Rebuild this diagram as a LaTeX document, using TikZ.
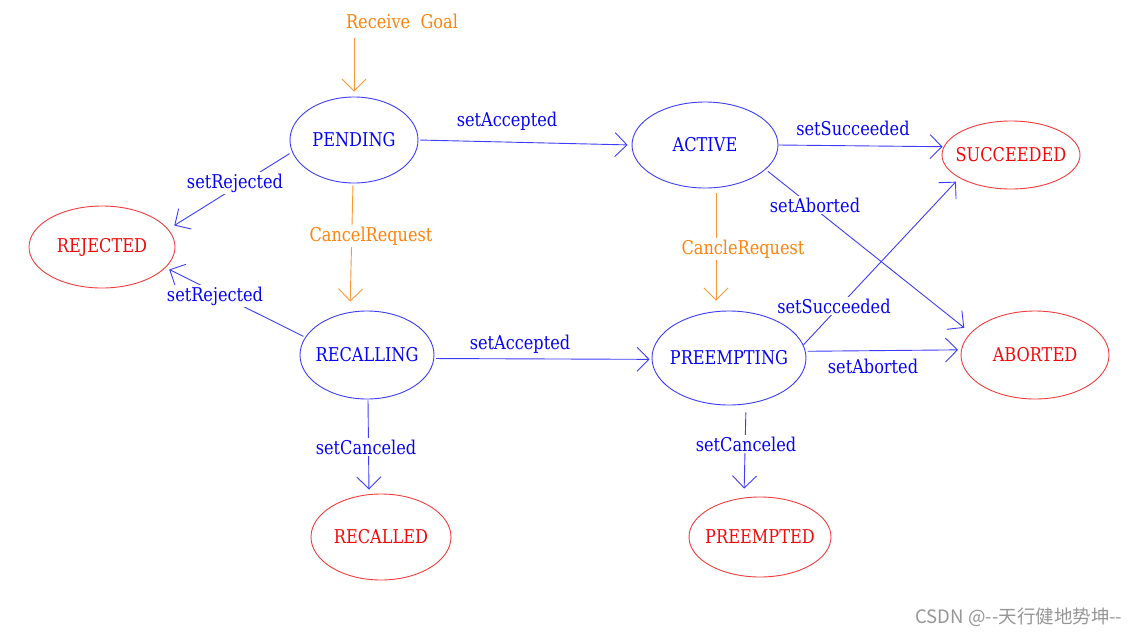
\documentclass[tikz,border=0pt]{standalone}
\usepackage{fontspec}
\setmainfont{DejaVu Serif}[FakeStretch=0.85]
\newfontfamily\cjkfont{Noto Sans CJK SC}
\usetikzlibrary{shapes.geometric,arrows.meta}
\definecolor{tblue}{RGB}{5,5,240}
\definecolor{lblue}{RGB}{60,60,250}
\definecolor{tred}{RGB}{240,10,10}
\definecolor{lred}{RGB}{240,60,60}
\definecolor{torange}{RGB}{255,130,10}
\definecolor{lorange}{RGB}{255,150,50}
\definecolor{wmgray}{RGB}{150,150,150}
\begin{document}
\begin{tikzpicture}[x=1pt,y=-1pt,
  txt/.style={font=\fontsize{19}{22}\selectfont},
  stbox/.style={ellipse, draw=lblue, line width=0.9pt, text=tblue, inner sep=0pt, txt},
  finbox/.style={ellipse, draw=lred, line width=0.9pt, text=tred, inner sep=0pt, txt},
  trans/.style={draw=lblue, line width=0.9pt, -{Straight Barb[length=12pt,width=24pt]}},
  cancel/.style={trans, draw=lorange},
  lbl/.style={txt, text=tblue, fill=white, inner sep=2pt},
  olbl/.style={lbl, text=torange},
]
\useasboundingbox (0,0) rectangle (1141,635);
\fill[white] (0,0) rectangle (1141,635);

% states
\node[stbox, minimum width=128pt, minimum height=86pt] (pending) at (354,140) {\makebox[0pt]{PENDING}};
\node[stbox, minimum width=146pt, minimum height=86pt] (active) at (705,145) {\makebox[0pt]{ACTIVE}};
\node[stbox, minimum width=134pt, minimum height=88pt] (recalling) at (367,355) {\makebox[0pt]{RECALLING}};
\node[stbox, minimum width=154pt, minimum height=94pt] (preempting) at (729,358) {\makebox[0pt]{PREEMPTING}};
\node[finbox, minimum width=138pt, minimum height=68pt] (succeeded) at (1011,155) {\makebox[0pt]{SUCCEEDED}};
\node[finbox, minimum width=148pt, minimum height=88pt] (aborted) at (1035,355) {\makebox[0pt]{ABORTED}};
\node[finbox, minimum width=146pt, minimum height=82pt] (rejected) at (102,247) {\makebox[0pt]{\raisebox{-3pt}{REJECTED}}};
\node[finbox, minimum width=140pt, minimum height=86pt] (recalled) at (381,537) {\makebox[0pt]{RECALLED}};
\node[finbox, minimum width=142pt, minimum height=80pt] (preempted) at (760,537) {\makebox[0pt]{PREEMPTED}};

% connectors
\coordinate (goal) at (354,38);
\draw[cancel, shorten >=5pt] (goal) -- (pending.north);
\draw[trans, shorten <=2pt, shorten >=4pt] (pending.east) -- (active.west);
\draw[trans, shorten >=1pt] (active.east) -- (succeeded.173);
\draw[trans, shorten <=3pt, shorten >=8pt] (active.-22) -- (aborted.161);
\draw[cancel, shorten <=4.5pt, shorten >=10pt] ([xshift=11pt]active.south) -- ([xshift=-13pt]preempting.north);
\draw[trans, shorten >=5pt] (preempting.10) -- (succeeded.204);
\draw[trans, shorten <=2pt, shorten >=3pt] (preempting.5) -- (aborted.176);
\draw[trans, shorten <=7pt, shorten >=8pt] ([xshift=17pt]preempting.south) -- ([xshift=-16pt]preempted.north);
\draw[trans, shorten <=2pt, shorten >=2pt] (recalling.-3) -- (preempting.181);
\draw[trans, shorten <=1pt, shorten >=4pt] ([xshift=1pt]recalling.south) -- ([xshift=-12pt]recalled.north);
\draw[trans, shorten <=2pt, shorten >=4pt] (recalling.164) -- (rejected.-18);
\draw[trans, shorten <=3pt, shorten >=7pt] (pending.191) -- (rejected.15);
\draw[cancel, shorten <=2pt, shorten >=9pt] ([xshift=-1pt]pending.south) -- ([xshift=-17pt]recalling.north);

% labels
\node[olbl] (lgoal) at (402,21) {Receive\ \ Goal};
\node[lbl] (l1) at (507,121) {setAccepted};
\node[lbl] (l2) at (853,128) {setSucceeded};
\node[lbl] (l3) at (815,205) {setAborted};
\node[olbl] (l4) at (743,249) {CancleRequest};
\node[lbl] (l5) at (834,306) {setSucceeded};
\node[lbl] (l6) at (873,366) {setAborted};
\node[lbl] (l7) at (746,444) {setCanceled};
\node[lbl] (l8) at (520,344) {setAccepted};
\node[lbl] (l9) at (366,447) {setCanceled};
\node[lbl] (l10) at (215,296) {setRejected};
\node[lbl] (l11) at (235,183) {setRejected};
\node[olbl] (l12) at (371,236) {CancelRequest};

% watermark
\node[text=wmgray, font=\cjkfont\fontsize{18.5}{20}\selectfont, inner sep=0pt] (wm) at (1019,617) {CSDN @--天行健地势坤--};
\end{tikzpicture}
\end{document}
